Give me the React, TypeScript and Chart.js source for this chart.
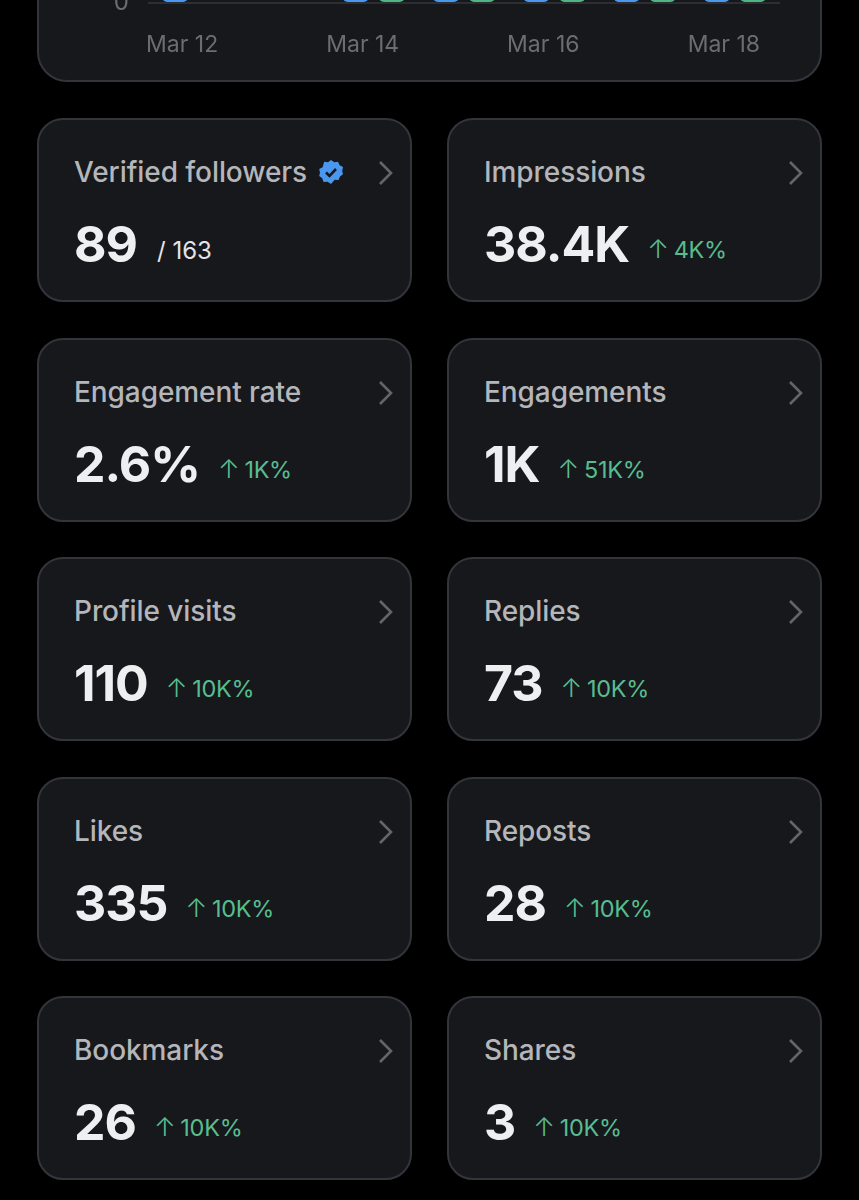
import React, { useEffect, useRef } from 'react';
import { Chart, registerables } from 'chart.js';

Chart.register(...registerables);

const days = ['Mar 12', 'Mar 13', 'Mar 14', 'Mar 15', 'Mar 16', 'Mar 17', 'Mar 18'];
// only the feet of the bars are in the photo, heights are a guess
const blueValues = [2, null, 6, 5, 7, 4, 5];
const greenValues = [null, null, 5, 6, 4, 6, 4];
const yTicks = [0, 5, 10];

const cardTitles = ['Verified followers', 'Impressions', 'Engagement rate', 'Engagements', 'Profile visits', 'Replies', 'Likes', 'Reposts', 'Bookmarks', 'Shares'];
const cardValues = ['89', '38.4K', '2.6%', '1K', '110', '73', '335', '28', '26', '3'];
const cardChanges = ['', '4K%', '1K%', '51K%', '10K%', '10K%', '10K%', '10K%', '10K%', '10K%'];

const FONT = 'Inter, "Noto Sans", sans-serif';

function BarChart() {
  const canvasRef = useRef<HTMLCanvasElement>(null);

  useEffect(() => {
    if (!canvasRef.current) return;
    const chart = new Chart(canvasRef.current, {
      type: 'bar',
      data: {
        labels: days,
        datasets: [
          { data: blueValues, backgroundColor: '#4a97ee', borderRadius: 5, borderSkipped: false },
          { data: greenValues, backgroundColor: '#4fb583', borderRadius: 5, borderSkipped: false },
        ],
      },
      options: {
        responsive: false,
        animation: false,
        layout: { padding: { right: 40 } },
        plugins: { legend: { display: false }, tooltip: { enabled: false } },
        datasets: { bar: { categoryPercentage: 0.8, barPercentage: 0.72 } },
        scales: {
          x: {
            grid: { display: false },
            border: { display: false },
            afterFit: (axis: any) => { axis.height = 77; },
            ticks: {
              color: '#6b6d72',
              padding: 20,
              labelOffset: -11,
              maxRotation: 0,
              autoSkip: false,
              callback: (_v: any, i: number) => (i % 2 === 0 ? days[i] : ''),
              font: { family: FONT, size: 23 },
            },
          },
          y: {
            min: 0,
            max: 10,
            afterFit: (axis: any) => { axis.width = 109; },
            afterBuildTicks: (axis: any) => { axis.ticks = yTicks.map((value) => ({ value })); },
            grid: { color: '#2c2e33', lineWidth: 2, drawTicks: false },
            border: { display: false },
            ticks: { color: '#6b6d72', padding: 19, font: { family: FONT, size: 24 } },
          },
        },
      },
    });
    return () => chart.destroy();
  }, []);

  return <canvas ref={canvasRef} width={781} height={398} style={{ display: 'block' }} />;
}

function Badge() {
  return (
    <svg width="26" height="26" viewBox="0 0 26 26" style={{ marginLeft: 11, flex: 'none' }}>
      <path
        d="M13 1l3.2 2.2 3.8-.4 1.6 3.5 3.4 1.8-.8 3.8 .8 3.3-3 2.2-1.4 3.6-3.9-.2L13 25l-3.5-2.3-3.9.2-1.4-3.6-3-2.2.8-3.3-.8-3.8 3.4-1.8L6.200 2.800l3.800.4z"
        fill="#4a97ee"
      />
      <path d="M8 13.500l3.500 3.500 6.500-7" fill="none" stroke="#17181c" strokeWidth="2.600" />
    </svg>
  );
}

function Card({ index }: { index: number }) {
  return (
    <div style={{ position: 'relative', boxSizing: 'border-box', height: 184, background: '#17181c', border: '2px solid #33353a', borderRadius: 26, fontFamily: FONT }}>
      <div style={{ position: 'absolute', left: 35, top: 35, display: 'flex', alignItems: 'center', color: '#b4b6ba', fontSize: 28, fontWeight: 500, letterSpacing: -0.08, lineHeight: '34px', whiteSpace: 'nowrap' }}>
        {cardTitles[index]}
        {index === 0 && <Badge />}
      </div>
      <svg width="16" height="26" viewBox="0 0 16 26" style={{ position: 'absolute', right: 16, top: 40 }}>
        <path d="M2 2l11 11L2 24" fill="none" stroke="#63656a" strokeWidth="2.600" />
      </svg>
      <div style={{ position: 'absolute', left: 35, top: 93, display: 'flex', alignItems: 'baseline', whiteSpace: 'nowrap' }}>
        <span style={{ color: '#eeeff0', fontSize: 50, fontWeight: 700, letterSpacing: -1, lineHeight: '62px' }}>{cardValues[index]}</span>
        {index === 0 ? (
          <span style={{ color: '#e3e4e6', fontSize: 24, marginLeft: 20, position: 'relative', top: -3 }}>/ 163</span>
        ) : (
          <span style={{ color: '#57bd8f', fontSize: 23.500, letterSpacing: -0.3, marginLeft: 18, position: 'relative', top: -4 }}>
            <span style={{ fontSize: 26, fontWeight: 300, marginRight: 5 }}>↑</span>
            {cardChanges[index]}
          </span>
        )}
      </div>
    </div>
  );
}

export default function App() {
  return (
    <div style={{ position: 'absolute', left: 0, top: 0, width: 859, height: 1200, overflow: 'hidden', background: '#000' }}>
      <div style={{ position: 'absolute', left: 37, top: -320, width: 785, height: 402, boxSizing: 'border-box', background: '#17181c', border: '2px solid #33353a', borderRadius: 30 }}>
        <BarChart />
      </div>
      <div style={{ position: 'absolute', left: 37, top: 118, width: 785, display: 'grid', gridTemplateColumns: '375px 375px', columnGap: 35, rowGap: 35.500 }}>
        {cardTitles.map((_t, i) => <Card key={i} index={i} />)}
      </div>
    </div>
  );
}
